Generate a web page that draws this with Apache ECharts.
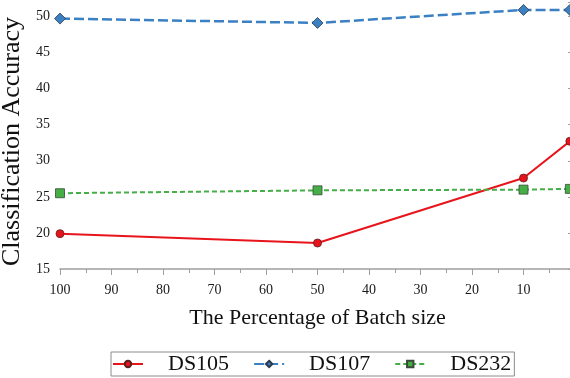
<!DOCTYPE html>
<html>
<head>
<meta charset="utf-8">
<script src="https://cdn.jsdelivr.net/npm/echarts@6/dist/echarts.min.js"></script>
<style>
  html, body { margin: 0; padding: 0; background: #fff; }
  #chart { width: 570px; height: 378px; }
</style>
</head>
<body>
<div id="chart"></div>
<script>
  // batch size percentage (x) and accuracy per dataset
  var batchPct = [100, 50, 10, 1];
  var ds105 = [19.9, 18.6, 27.6, 32.7];
  var ds107 = [49.7, 49.1, 50.9, 50.9];
  var ds232 = [25.5, 25.9, 26.0, 26.1];
  var seriesNames = ['DS105', 'DS107', 'DS232'];

  function pairs(ys) {
    return batchPct.map(function (x, i) { return [x, ys[i]]; });
  }

  var serif = 'Liberation Serif';
  var axisGray = '#9e9e9e';

  var chart = echarts.init(document.getElementById('chart'));
  var option = {
    animation: false,
    grid: { left: 60, top: 2, width: 515, bottom: 109, outerBoundsMode: 'none', containLabel: false },
    legend: {
      data: seriesNames,
      left: 111,
      top: 352,
      orient: 'horizontal',
      itemWidth: 30,
      itemHeight: 8,
      itemGap: 24,
      padding: [1, 3, 1, 1],
      borderColor: '#8c8c8c',
      borderWidth: 1,
      textStyle: {
        fontFamily: serif,
        fontSize: 22,
        color: '#111',
        padding: [0, 0, 0, 20]
      }
    },
    xAxis: {
      type: 'value',
      inverse: true,
      min: 0,
      max: 100,
      interval: 10,
      name: 'The Percentage of Batch size',
      nameLocation: 'middle',
      nameGap: 38,
      nameTextStyle: { fontFamily: serif, fontSize: 22, color: '#111' },
      axisLine: { lineStyle: { color: axisGray, width: 1.5 } },
      axisTick: { show: true, length: 6, lineStyle: { color: axisGray } },
      minorTick: { show: true, splitNumber: 2, length: 4, lineStyle: { color: axisGray } },
      splitLine: { show: false },
      axisLabel: {
        fontFamily: serif, fontSize: 14, color: '#1a1a1a', margin: 14,
        formatter: function (v) { return v === 0 ? '' : v; }
      }
    },
    yAxis: {
      type: 'value',
      min: 15,
      max: 52,
      interval: 5,
      name: 'Classification Accuracy',
      nameLocation: 'middle',
      nameGap: 31,
      nameTextStyle: { fontFamily: serif, fontSize: 26, color: '#111', padding: [0, 12, 0, 0] },
      axisLine: { show: true, lineStyle: { color: axisGray, width: 1.5 } },
      axisTick: { show: true, length: 7, lineStyle: { color: axisGray } },
      minorTick: { show: true, splitNumber: 2, length: 4, lineStyle: { color: axisGray } },
      splitLine: { show: false },
      axisLabel: {
        fontFamily: serif, fontSize: 14, color: '#1a1a1a', margin: 10,
        showMaxLabel: false
      }
    },
    series: [
      {
        name: 'DS105',
        type: 'line',
        data: pairs(ds105),
        symbol: 'circle',
        symbolSize: 8,
        color: '#e8141c',
        lineStyle: { width: 2, color: '#e8141c' },
        itemStyle: { color: '#e8141c', borderColor: '#5a2020', borderWidth: 0.8 }
      },
      {
        name: 'DS107',
        type: 'line',
        data: pairs(ds107),
        symbol: 'diamond',
        symbolSize: 11,
        color: '#3b80c2',
        lineStyle: { width: 2.5, color: '#3b80c2', type: [10, 4] },
        itemStyle: { color: '#3b80c2', borderColor: '#2a3a4a', borderWidth: 0.8 }
      },
      {
        name: 'DS232',
        type: 'line',
        data: pairs(ds232),
        symbol: 'rect',
        symbolSize: 9,
        color: '#46ae46',
        lineStyle: { width: 2, color: '#46ae46', type: [5, 3] },
        itemStyle: { color: '#46ae46', borderColor: '#3a4a3a', borderWidth: 0.8 }
      }
    ]
  };
  option && chart.setOption(option);
</script>
</body>
</html>
